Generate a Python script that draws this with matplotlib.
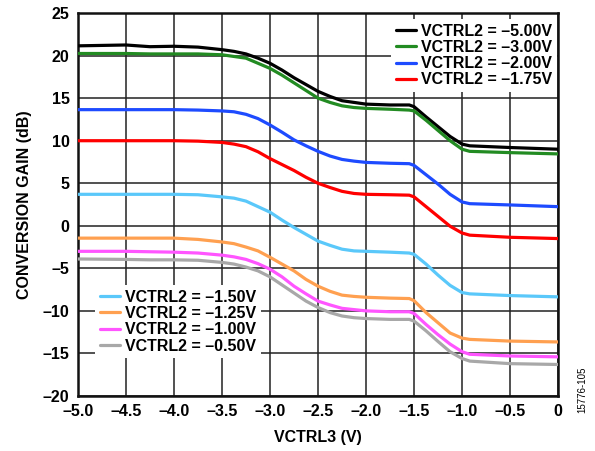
import matplotlib
matplotlib.use("Agg")
import matplotlib.pyplot as plt

plt.rcParams['font.family'] = ['Liberation Sans', 'DejaVu Sans']

vctrl3 = [-5.0, -4.5, -4.25, -4.0, -3.75, -3.5, -3.375, -3.25, -3.125, -3.0,
          -2.875, -2.75, -2.625, -2.5, -2.375, -2.25, -2.125, -2.0, -1.75, -1.55,
          -1.5, -1.375, -1.25, -1.125, -1.0, -0.92, -0.5, 0.0]

gain_m500 = [21.15, 21.25, 21.05, 21.1, 21.0, 20.7, 20.5, 20.2, 19.7, 19.1,
             18.3, 17.4, 16.6, 15.8, 15.2, 14.7, 14.5, 14.3, 14.2, 14.2,
             14.0, 12.8, 11.65, 10.5, 9.6, 9.4, 9.2, 9.0]
gain_m300 = [20.25, 20.25, 20.2, 20.2, 20.2, 20.1, 19.9, 19.7, 19.1, 18.5,
             17.7, 16.8, 15.9, 15.0, 14.5, 14.1, 13.9, 13.8, 13.7, 13.6,
             13.5, 12.4, 11.2, 10.0, 9.0, 8.75, 8.6, 8.45]
gain_m200 = [13.65, 13.65, 13.65, 13.65, 13.6, 13.5, 13.4, 13.1, 12.6, 11.85,
             11.0, 10.1, 9.4, 8.75, 8.2, 7.8, 7.6, 7.45, 7.35, 7.3,
             7.1, 6.0, 4.9, 3.7, 2.8, 2.6, 2.45, 2.25]
gain_m175 = [10.0, 10.0, 10.0, 10.0, 9.95, 9.8, 9.6, 9.3, 8.7, 7.9,
             7.2, 6.5, 5.7, 5.0, 4.5, 4.05, 3.8, 3.7, 3.65, 3.6,
             3.4, 2.25, 1.1, -0.05, -0.85, -1.1, -1.35, -1.5]
gain_m150 = [3.7, 3.7, 3.7, 3.7, 3.65, 3.4, 3.25, 2.9, 2.25, 1.6,
             0.67, -0.2, -1.0, -1.8, -2.3, -2.75, -2.95, -3.0, -3.1, -3.2,
             -3.35, -4.5, -5.8, -7.0, -7.85, -8.0, -8.2, -8.35]
gain_m125 = [-1.45, -1.45, -1.45, -1.45, -1.6, -1.9, -2.1, -2.5, -2.95, -3.7,
             -4.5, -5.3, -6.3, -7.1, -7.7, -8.15, -8.3, -8.4, -8.5, -8.55,
             -8.8, -10.2, -11.4, -12.6, -13.2, -13.35, -13.55, -13.65]
gain_m100 = [-3.0, -3.0, -3.05, -3.1, -3.2, -3.45, -3.65, -3.95, -4.45, -5.1,
             -6.0, -7.1, -8.0, -8.85, -9.3, -9.7, -9.85, -10.0, -10.1, -10.1,
             -10.3, -11.6, -12.8, -13.9, -14.8, -15.1, -15.3, -15.4]
gain_m050 = [-3.9, -3.95, -4.0, -4.0, -4.05, -4.3, -4.5, -4.85, -5.3, -6.0,
             -6.95, -7.9, -8.85, -9.6, -10.2, -10.6, -10.8, -10.9, -11.0, -11.0,
             -11.2, -12.35, -13.6, -14.8, -15.6, -15.9, -16.2, -16.3]

labels_top = ["VCTRL2 = –5.00V", "VCTRL2 = –3.00V", "VCTRL2 = –2.00V", "VCTRL2 = –1.75V"]
labels_bot = ["VCTRL2 = –1.50V", "VCTRL2 = –1.25V", "VCTRL2 = –1.00V", "VCTRL2 = –0.50V"]

xticks = [-5.0, -4.5, -4.0, -3.5, -3.0, -2.5, -2.0, -1.5, -1.0, -0.5, 0.0]
xticklabels = ["–5.0", "–4.5", "–4.0", "–3.5", "–3.0", "–2.5", "–2.0", "–1.5", "–1.0", "–0.5", "0"]
yticks = [-20, -15, -10, -5, 0, 5, 10, 15, 20, 25]
yticklabels = ["–20", "–15", "–10", "–5", "0", "5", "10", "15", "20", "25"]

fig = plt.figure(figsize=(5.95, 4.51), dpi=100)
ax = fig.add_axes([0.131, 0.122, 0.807, 0.849])

lw = 2.3
fs = 11.5
top_series = [(gain_m500, "#000000"), (gain_m300, "#228b22"),
              (gain_m200, "#1e4bff"), (gain_m175, "#ff0000")]
bot_series = [(gain_m150, "#5ac8fa"), (gain_m125, "#ffa050"),
              (gain_m100, "#ff55ff"), (gain_m050, "#a8a8a8")]

h_top = []
for (vals, c), lab in zip(top_series, labels_top):
    h, = ax.plot(vctrl3, vals, color=c, lw=lw, label=lab, solid_joinstyle='round', solid_capstyle='round', zorder=3)
    h_top.append(h)
h_bot = []
for (vals, c), lab in zip(bot_series, labels_bot):
    h, = ax.plot(vctrl3, vals, color=c, lw=lw, label=lab, solid_joinstyle='round', solid_capstyle='round', zorder=3)
    h_bot.append(h)

ax.set_xlim(-5, 0)
ax.set_ylim(-20, 25)
ax.set_xticks(xticks, xticklabels)
ax.set_yticks(yticks, yticklabels)
ax.grid(True, color="#222222", lw=1.1)
ax.tick_params(length=0, labelsize=fs, pad=6)
for t in ax.get_xticklabels() + ax.get_yticklabels():
    t.set_fontweight('bold')
for s in ax.spines.values():
    s.set_linewidth(1.8)
    s.set_color("#111111")

ax.set_xlabel("VCTRL3 (V)", fontsize=fs, fontweight='bold', labelpad=8)
ax.set_ylabel("CONVERSION GAIN (dB)", fontsize=fs, fontweight='bold', labelpad=8)

leg_kw = dict(frameon=True, fancybox=False, edgecolor='none', framealpha=1.0,
              prop={'weight': 'bold', 'size': fs}, handlelength=1.3,
              handletextpad=0.3, labelspacing=0.08, borderpad=0.3, borderaxespad=0.0)
leg1 = ax.legend(handles=h_top, loc='upper right', bbox_to_anchor=(0.998, 0.985), **leg_kw)
leg1.set_zorder(5)
ax.add_artist(leg1)
leg2 = ax.legend(handles=h_bot, loc='upper left', bbox_to_anchor=(0.035, 0.29), **leg_kw)
leg2.set_zorder(5)

fig.text(0.978, 0.135, "15776-105", rotation=90, fontsize=7, ha='center', va='center')

fig.savefig("out.png", dpi=100)
